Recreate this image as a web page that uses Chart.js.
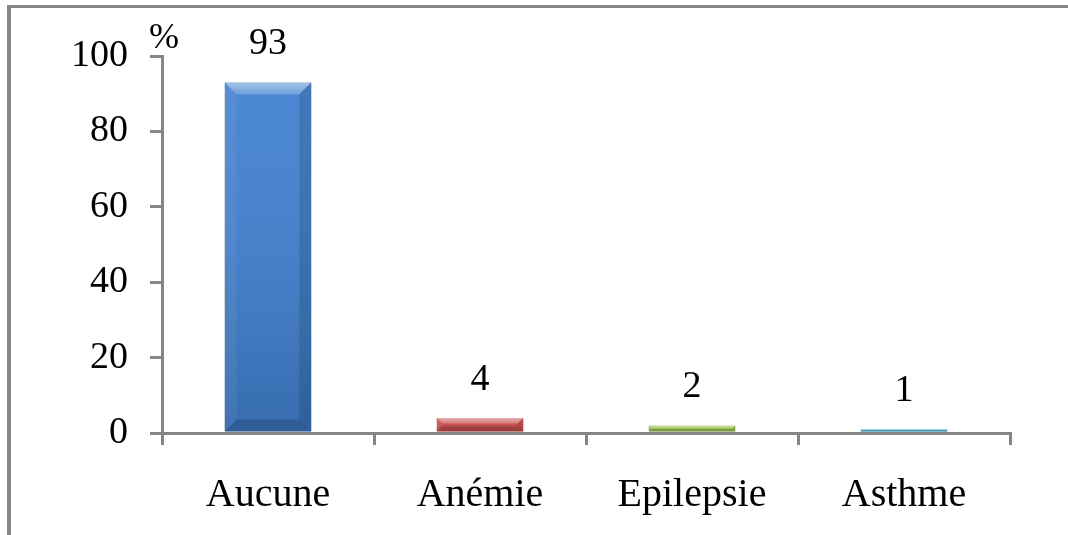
<!DOCTYPE html>
<html>
<head>
<meta charset="utf-8">
<script src="https://cdn.jsdelivr.net/npm/chart.js@4"></script>
<style>
  html, body { margin: 0; padding: 0; background: #fff; overflow: hidden; }
  #wrap { position: relative; width: 1068px; height: 535px; overflow: hidden; }
  #frame {
    position: absolute; left: 7px; top: 5px; width: 1200px; height: 700px;
    border-left: 4px solid #878787; border-top: 3px solid #878787;
  }
  #c { position: absolute; left: 0; top: 0; }
</style>
</head>
<body>
<div id="wrap">
  <div id="frame"></div>
  <canvas id="c" width="1068" height="535"></canvas>
</div>
<script>
// Antécédents médicaux (%)
const categories = ['Aucune', 'Anémie', 'Epilepsie', 'Asthme'];
const percentages = [93, 4, 2, 1];
const yTicks = [0, 20, 40, 60, 80, 100];
const unitLabel = '%';

const barColors = ['#4080D0', '#CF4F4D', '#9DC64E', '#3EA7D0'];
const axisColor = '#868686';
const serif = '"Palatino Linotype", "Book Antiqua", Palatino, "Liberation Serif", "DejaVu Serif", serif';

// Bevel shading laid over each bar, following the bar element geometry
const bevelPlugin = {
  id: 'bevel',
  afterDatasetsDraw(chart) {
    const ctx = chart.ctx;
    const meta = chart.getDatasetMeta(0);
    meta.data.forEach((bar) => {
      const { x, y, base, width } = bar.getProps(['x', 'y', 'base', 'width'], true);
      const l = x - width / 2, r = x + width / 2, t = y, b = base;
      const h = b - t;
      const bv = Math.min(12, h * 0.42);
      ctx.save();
      // overall darkening towards the base
      const g = ctx.createLinearGradient(0, t, 0, b);
      g.addColorStop(0, 'rgba(255,255,255,0.06)');
      g.addColorStop(1, 'rgba(0,0,0,0.16)');
      ctx.fillStyle = g;
      ctx.fillRect(l, t, width, h);
      const quad = (pts, style) => {
        ctx.beginPath();
        ctx.moveTo(pts[0][0], pts[0][1]);
        for (let i = 1; i < pts.length; i++) ctx.lineTo(pts[i][0], pts[i][1]);
        ctx.closePath();
        ctx.fillStyle = style;
        ctx.fill();
      };
      const tg = ctx.createLinearGradient(0, t, 0, t + bv);
      tg.addColorStop(0, 'rgba(255,255,255,0.5)');
      tg.addColorStop(1, 'rgba(255,255,255,0.2)');
      quad([[l, t], [r, t], [r - bv, t + bv], [l + bv, t + bv]], tg);
      quad([[l, t], [l + bv, t + bv], [l + bv, b - bv], [l, b]], 'rgba(255,255,255,0.05)');
      quad([[r, t], [r - bv, t + bv], [r - bv, b - bv], [r, b]], 'rgba(0,0,0,0.12)');
      quad([[l, b], [l + bv, b - bv], [r - bv, b - bv], [r, b]], 'rgba(0,0,0,0.14)');
      ctx.restore();
    });
  }
};

// Value above each bar and the unit at the top of the value axis
const labelPlugin = {
  id: 'valueLabels',
  afterDatasetsDraw(chart) {
    const ctx = chart.ctx;
    const meta = chart.getDatasetMeta(0);
    ctx.save();
    ctx.fillStyle = '#000';
    ctx.font = '38px ' + serif;
    ctx.textAlign = 'center';
    ctx.textBaseline = 'alphabetic';
    meta.data.forEach((bar, i) => {
      const { x, y } = bar.getProps(['x', 'y'], true);
      ctx.fillText(String(percentages[i]), x, y - 28);
    });
    const area = chart.chartArea;
    ctx.textAlign = 'left';
    ctx.font = '36px ' + serif;
    ctx.fillText(unitLabel, area.left - 13, area.top - 8);
    ctx.restore();
  }
};

new Chart(document.getElementById('c'), {
  type: 'bar',
  data: {
    labels: categories,
    datasets: [{
      data: percentages,
      backgroundColor: barColors,
      borderWidth: 0,
      barPercentage: 0.51,
      categoryPercentage: 0.8
    }]
  },
  options: {
    responsive: false,
    animation: false,
    layout: { padding: { left: 0, top: 56, right: 58, bottom: 0 } },
    plugins: { legend: { display: false }, tooltip: { enabled: false } },
    scales: {
      x: {
        border: { color: axisColor, width: 3 },
        grid: { offset: true, drawOnChartArea: false, color: axisColor, lineWidth: 3, tickLength: 12 },
        ticks: { color: '#000', font: { family: serif, size: 40 }, padding: 26, maxRotation: 0 },
        afterFit(s) { s.height = 102; }
      },
      y: {
        min: 0,
        max: 100,
        afterBuildTicks(s) { s.ticks = yTicks.map(v => ({ value: v })); },
        border: { color: axisColor, width: 3 },
        grid: { drawOnChartArea: false, color: axisColor, lineWidth: 3, tickLength: 12 },
        ticks: { color: '#000', font: { family: serif, size: 38 }, padding: 22 },
        afterFit(s) { s.width = 162; }
      }
    }
  },
  plugins: [bevelPlugin, labelPlugin]
});
</script>
</body>
</html>
